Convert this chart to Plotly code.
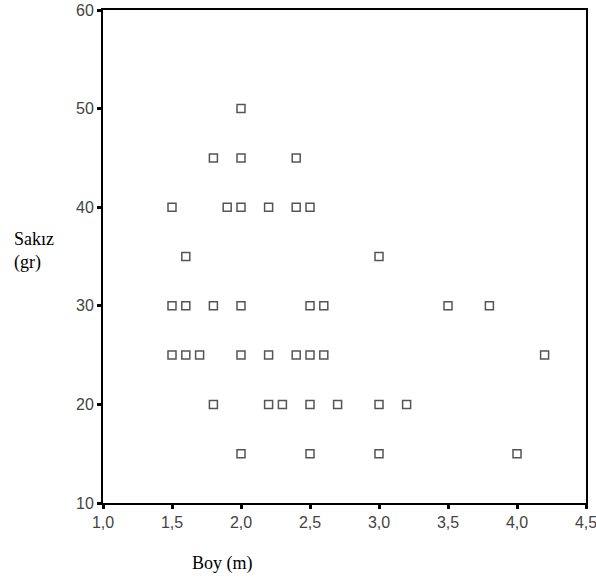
import plotly.graph_objects as go

boy = [2.0,
       1.8, 2.0, 2.4,
       1.5, 1.9, 2.0, 2.2, 2.4, 2.5,
       1.6, 3.0,
       1.5, 1.6, 1.8, 2.0, 2.5, 2.6, 3.5, 3.8,
       1.5, 1.6, 1.7, 2.0, 2.2, 2.4, 2.5, 2.6, 4.2,
       1.8, 2.2, 2.3, 2.5, 2.7, 3.0, 3.2,
       2.0, 2.5, 3.0, 4.0]
sakiz = [50,
         45, 45, 45,
         40, 40, 40, 40, 40, 40,
         35, 35,
         30, 30, 30, 30, 30, 30, 30, 30,
         25, 25, 25, 25, 25, 25, 25, 25, 25,
         20, 20, 20, 20, 20, 20, 20,
         15, 15, 15, 15]

x_ticks = [1.0, 1.5, 2.0, 2.5, 3.0, 3.5, 4.0, 4.5]
y_ticks = [10, 20, 30, 40, 50, 60]

W, H = 596, 583
l, r, t, b = 103, 10, 10, 80
pw, ph = W - l - r, H - t - b

fig = go.Figure()
fig.add_trace(go.Scatter(
    x=boy, y=sakiz, mode="markers",
    marker=dict(symbol="square-open", size=8, color="#555555",
                line=dict(width=1.5, color="#555555")),
    showlegend=False, hoverinfo="x+y", cliponaxis=False))

axis_common = dict(showgrid=False, zeroline=False, showline=True, linecolor="black",
                   linewidth=2, mirror=True, ticks="outside", ticklen=4, tickwidth=3,
                   tickcolor="black", automargin=False, ticklabeloverflow="allow",
                   tickfont=dict(family="Liberation Sans", size=16, color="#444444"))

serif = dict(family="Liberation Serif", size=18, color="black")

fig.update_layout(
    width=W, height=H,
    margin=dict(l=l, r=r, t=t, b=b, autoexpand=False),
    paper_bgcolor="white", plot_bgcolor="white",
    separators=",.",
    xaxis=dict(range=[1.0, 4.5], tickvals=x_ticks, tickformat=".1f", **axis_common),
    yaxis=dict(range=[10, 60], tickvals=y_ticks, **axis_common),
    annotations=[
        dict(text="Sakız<br>(gr)", xref="paper", yref="paper",
             x=(34 - l) / pw, y=(H - b - 251) / ph,
             showarrow=False, align="left", xanchor="center", yanchor="middle", font=serif),
        dict(text="Boy (m)", xref="paper", yref="paper",
             x=(222 - l) / pw, y=(H - b - 563) / ph,
             showarrow=False, xanchor="center", yanchor="middle", font=serif),
    ],
)

fig.write_html("out.html", config={"displayModeBar": False},
               post_script="document.body.style.margin='0';document.body.style.padding='0';")
